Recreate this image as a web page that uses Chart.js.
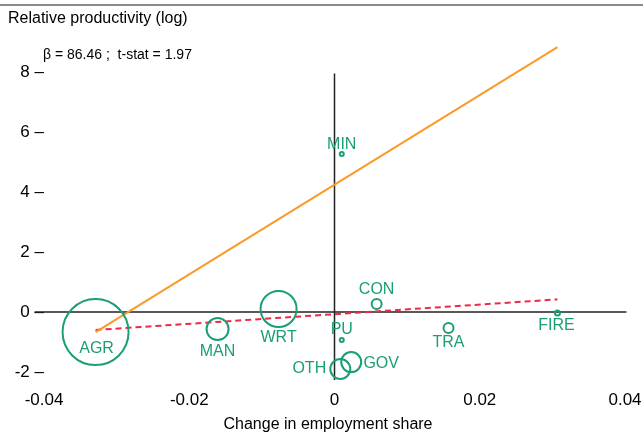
<!DOCTYPE html>
<html lang="en">
<head>
    <meta charset="UTF-8">
    <title>Relative productivity vs change in employment share</title>
    <style>
        body { margin: 0; background: #fff; }
        #chart { display: block; }
    </style>
    <script src="https://cdn.jsdelivr.net/npm/chart.js"></script>
</head>
<body>
    <canvas id="chart" width="643" height="434"></canvas>

    <script>
        // sectors and their values
        const sectors = ['AGR', 'MAN', 'WRT', 'MIN', 'CON', 'PU', 'OTH', 'GOV', 'TRA', 'FIRE'];
        const empChange = [-0.0329, -0.0161, -0.0077, 0.0010, 0.0058, 0.0010, 0.0008, 0.0023, 0.0157, 0.0307];
        const relProd = [-0.67, -0.57, 0.10, 5.27, 0.27, -0.93, -1.90, -1.67, -0.53, -0.03];
        const bubbleSize = [33, 11, 18, 2, 5, 2, 10, 10, 5, 2.5];

        // fitted lines (end points)
        const fitX = [-0.0329, 0.0307];
        const orangeFitY = [-0.67, 8.83];
        const redFitY = [-0.60, 0.42];

        // reference lines through zero
        const zeroLineX = [-0.0413, 0.0402];
        const vertLineY = [-2.27, 7.95];

        const xTicks = [-0.04, -0.02, 0, 0.02, 0.04];
        const yTicks = [-2, 0, 2, 4, 6, 8];

        const noteText = '\u03b2 = 86.46 ;  t-stat = 1.97';

        // label placement relative to bubble centre (px)
        const labelDx = [1, 0, 0, 0, 0, 0, -31, 30, 0, -1];
        const labelDy = [16, 22, 29, -9, -14, -10, 0, 1, 15, 13];

        const GREEN = '#1b9e77';
        const FONT = 'Arial, "Liberation Sans", sans-serif';

        const toPts = (xs, ys) => xs.map((x, i) => ({ x: x, y: ys[i] }));

        // draws the free text and bubble labels
        const textPlugin = {
            id: 'texts',
            afterDraw(chart) {
                const ctx = chart.ctx;
                ctx.save();

                // rule across the top
                ctx.strokeStyle = '#8a8a8a';
                ctx.lineWidth = 2;
                ctx.beginPath();
                ctx.moveTo(0, 5);
                ctx.lineTo(643, 5);
                ctx.stroke();

                ctx.fillStyle = '#000';
                ctx.textBaseline = 'middle';
                ctx.textAlign = 'left';
                ctx.font = '16px ' + FONT;
                ctx.fillText('Relative productivity (log)', 8, 19);

                ctx.font = '14px ' + FONT;
                ctx.fillText(noteText, 43, 55);

                ctx.textAlign = 'center';
                ctx.font = '16px ' + FONT;
                ctx.fillText('Change in employment share', 328, 425);

                // sector labels
                const meta = chart.getDatasetMeta(0);
                ctx.fillStyle = GREEN;
                ctx.font = '16px ' + FONT;
                meta.data.forEach((pt, i) => {
                    ctx.fillText(sectors[i], pt.x + labelDx[i], pt.y + labelDy[i]);
                });
                ctx.restore();
            }
        };

        new Chart(document.getElementById('chart'), {
            type: 'bubble',
            data: {
                datasets: [
                    {
                        label: 'sectors',
                        data: empChange.map((x, i) => ({ x: x, y: relProd[i], r: bubbleSize[i] })),
                        backgroundColor: 'rgba(0,0,0,0)',
                        borderColor: GREEN,
                        borderWidth: 2,
                        order: 1
                    },
                    {
                        type: 'line',
                        data: toPts(zeroLineX, [0, 0]),
                        borderColor: '#222',
                        borderWidth: 1.5,
                        pointRadius: 0,
                        clip: false,
                        order: 4
                    },
                    {
                        type: 'line',
                        data: toPts([0, 0], vertLineY),
                        borderColor: '#222',
                        borderWidth: 1.5,
                        pointRadius: 0,
                        clip: false,
                        order: 4
                    },
                    {
                        type: 'line',
                        data: toPts(fitX, orangeFitY),
                        borderColor: '#fb9a29',
                        borderWidth: 2,
                        pointRadius: 0,
                        clip: false,
                        order: 2
                    },
                    {
                        type: 'line',
                        data: toPts(fitX, redFitY),
                        borderColor: '#ec2a44',
                        borderWidth: 2,
                        borderDash: [6, 4],
                        pointRadius: 0,
                        clip: false,
                        order: 3
                    }
                ]
            },
            options: {
                responsive: false,
                animation: false,
                events: [],
                layout: {
                    autoPadding: false,
                    padding: { left: 0, right: 18, top: 54, bottom: 0 }
                },
                plugins: {
                    legend: { display: false },
                    tooltip: { enabled: false }
                },
                scales: {
                    x: {
                        type: 'linear',
                        min: -0.04,
                        max: 0.04,
                        afterBuildTicks: s => { s.ticks = xTicks.map(v => ({ value: v })); },
                        afterFit: s => {
                            s.height = 53;
                            // let the last tick label hang over the edge
                            s.paddingLeft = 0;
                            s.paddingRight = 0;
                        },
                        grid: { display: false, drawTicks: false },
                        border: { display: false },
                        ticks: {
                            padding: 9,
                            color: '#000',
                            font: { family: FONT, size: 17 },
                            maxRotation: 0,
                            callback: v => (v === 0 ? '0' : v.toFixed(2))
                        }
                    },
                    y: {
                        type: 'linear',
                        min: -2.3,
                        max: 8.6,
                        afterBuildTicks: s => { s.ticks = yTicks.map(v => ({ value: v })); },
                        afterFit: s => { s.width = 44; },
                        grid: { display: false, drawTicks: false },
                        border: { display: false },
                        ticks: {
                            padding: 0,
                            color: '#000',
                            font: { family: FONT, size: 17 },
                            callback: v => v + ' \u2013'
                        }
                    }
                }
            },
            plugins: [textPlugin]
        });
    </script>
</body>
</html>
